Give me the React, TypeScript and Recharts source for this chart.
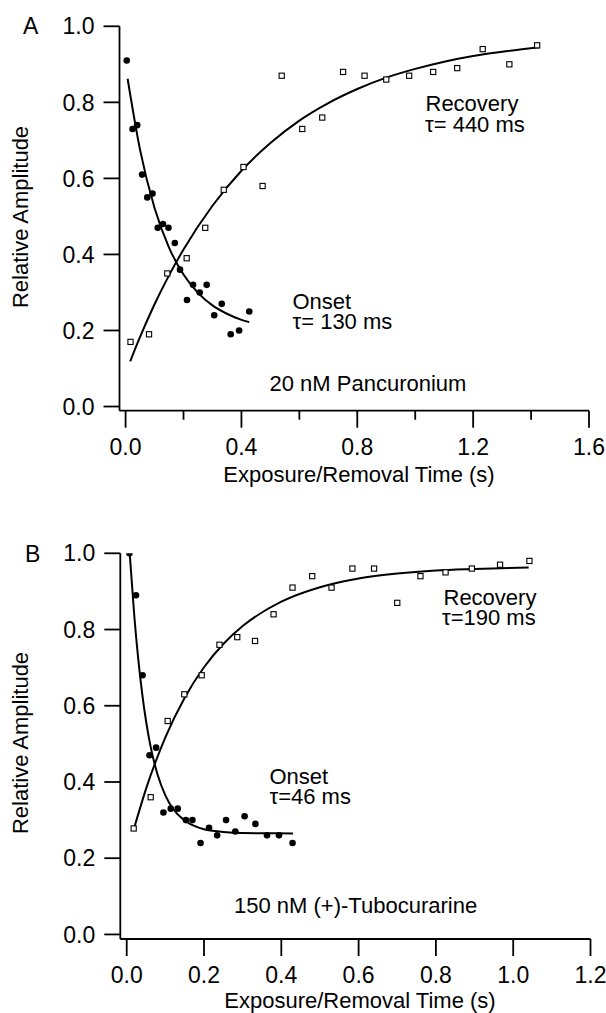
import React from 'react';
import { ComposedChart, Line, Scatter, XAxis, YAxis } from 'recharts';

// ---------- Panel A: 20 nM Pancuronium ----------
const onsetA_t = [0.004, 0.024, 0.040, 0.057, 0.075, 0.093, 0.111, 0.129, 0.148, 0.170, 0.188, 0.212, 0.233, 0.256, 0.280, 0.306, 0.332, 0.363, 0.392, 0.427];
const onsetA_y = [0.91, 0.73, 0.74, 0.61, 0.55, 0.56, 0.47, 0.48, 0.47, 0.43, 0.36, 0.28, 0.32, 0.30, 0.32, 0.24, 0.27, 0.19, 0.20, 0.25];
const recoveryA_t = [0.017, 0.081, 0.144, 0.211, 0.275, 0.339, 0.407, 0.473, 0.539, 0.61, 0.679, 0.751, 0.825, 0.90, 0.979, 1.062, 1.145, 1.233, 1.325, 1.421];
const recoveryA_y = [0.17, 0.19, 0.35, 0.39, 0.47, 0.57, 0.63, 0.58, 0.87, 0.73, 0.76, 0.88, 0.87, 0.86, 0.87, 0.88, 0.89, 0.94, 0.90, 0.95];
const onsetFitA_t = [0.007, 0.05, 0.1, 0.15, 0.2, 0.25, 0.3, 0.35, 0.4, 0.427];
const onsetFitA_y = [0.862, 0.675, 0.522, 0.418, 0.347, 0.299, 0.266, 0.244, 0.228, 0.222];
const recFitA_t = [0.016, 0.05, 0.1, 0.15, 0.2, 0.3, 0.4, 0.5, 0.6, 0.7, 0.8, 0.9, 1.0, 1.1, 1.2, 1.3, 1.43];
const recFitA_y = [0.119, 0.183, 0.269, 0.345, 0.413, 0.528, 0.620, 0.693, 0.752, 0.798, 0.835, 0.865, 0.888, 0.907, 0.922, 0.933, 0.945];
const xTicksA = [0, 0.2, 0.4, 0.6, 0.8, 1.0, 1.2, 1.4, 1.6];
const xLabeledA = [0, 0.4, 0.8, 1.2, 1.6];

// ---------- Panel B: 150 nM (+)-Tubocurarine ----------
const onsetB_t = [0.007, 0.024, 0.041, 0.059, 0.076, 0.095, 0.114, 0.132, 0.153, 0.170, 0.191, 0.213, 0.234, 0.257, 0.281, 0.305, 0.333, 0.363, 0.394, 0.429];
const onsetB_y = [1.0, 0.89, 0.68, 0.47, 0.49, 0.32, 0.33, 0.33, 0.30, 0.30, 0.24, 0.28, 0.26, 0.30, 0.27, 0.31, 0.29, 0.26, 0.26, 0.24];
const recoveryB_t = [0.018, 0.062, 0.106, 0.149, 0.194, 0.24, 0.286, 0.332, 0.38, 0.429, 0.48, 0.53, 0.584, 0.64, 0.70, 0.76, 0.825, 0.893, 0.966, 1.042];
const recoveryB_y = [0.278, 0.36, 0.56, 0.63, 0.68, 0.76, 0.78, 0.77, 0.84, 0.91, 0.94, 0.91, 0.96, 0.96, 0.87, 0.94, 0.95, 0.96, 0.97, 0.98];
const onsetFitB_t = [0.008, 0.02, 0.03, 0.04, 0.05, 0.06, 0.08, 0.1, 0.12, 0.15, 0.2, 0.25, 0.3, 0.43];
const onsetFitB_y = [0.996, 0.831, 0.721, 0.632, 0.560, 0.502, 0.419, 0.365, 0.329, 0.299, 0.276, 0.269, 0.266, 0.265];
const recFitB_t = [0.018, 0.05, 0.1, 0.15, 0.2, 0.25, 0.3, 0.4, 0.5, 0.6, 0.7, 0.8, 0.9, 1.04];
const recFitB_y = [0.275, 0.382, 0.517, 0.621, 0.701, 0.762, 0.809, 0.873, 0.911, 0.934, 0.947, 0.955, 0.959, 0.963];
const xTicksB = [0, 0.2, 0.4, 0.6, 0.8, 1.0, 1.2];

const yTicks = [0, 0.2, 0.4, 0.6, 0.8, 1.0];

const zip = (t: number[], y: number[]) => t.map((v, i) => ({ t: v, y: y[i] }));

const FONT = '"Liberation Sans", Arial, Helvetica, sans-serif';

const Dot = (p: any) => <circle cx={p.cx} cy={p.cy} r={3.3} fill="#000" />;
const Box = (p: any) => (
  <rect x={p.cx - 2.6} y={p.cy - 2.6} width={5.2} height={5.2} fill="#fff" stroke="#000" strokeWidth={1.1} />
);

const makeXTick = (labeled: number[] | null) => (p: any) => {
  const v = p.payload.value as number;
  const major = labeled === null || labeled.some((l) => Math.abs(l - v) < 1e-6);
  return (
    <g>
      <line x1={p.x} x2={p.x} y1={p.y} y2={p.y + (major ? 17 : 9)} stroke="#000" strokeWidth={1.8} />
      {major && (
        <text x={p.x} y={p.y + 44} textAnchor="middle" fontSize={23} fontFamily={FONT} fill="#000">
          {v.toFixed(1)}
        </text>
      )}
    </g>
  );
};

type PanelProps = {
  top: number;
  height: number;
  margin: { top: number; right: number; bottom: number; left: number };
  xDomain: [number, number];
  yDomain: [number, number];
  xTicks: number[];
  labeled: number[] | null;
  onset: { t: number; y: number }[];
  recovery: { t: number; y: number }[];
  onsetFit: { t: number; y: number }[];
  recFit: { t: number; y: number }[];
  xAxisHeight: number;
};

const Panel = (pp: PanelProps) => (
  <div style={{ position: 'absolute', left: 0, top: pp.top, width: 606, height: pp.height }}>
    <ComposedChart width={606} height={pp.height} margin={pp.margin}>
      <XAxis
        dataKey="t"
        type="number"
        domain={pp.xDomain}
        allowDataOverflow
        ticks={pp.xTicks}
        tickSize={0}
        tickMargin={0}
        tickLine={false}
        interval={0}
        height={pp.xAxisHeight}
        axisLine={{ stroke: '#000', strokeWidth: 1.8 }}
        tick={makeXTick(pp.labeled)}
      />
      <YAxis
        dataKey="y"
        type="number"
        domain={pp.yDomain}
        allowDataOverflow
        ticks={yTicks}
        interval={0}
        width={60}
        tickSize={16}
        tickMargin={9}
        tickFormatter={(v: number) => v.toFixed(1)}
        tick={{ fontSize: 23, fill: '#000', fontFamily: FONT }}
        tickLine={{ stroke: '#000', strokeWidth: 1.8 }}
        axisLine={{ stroke: '#000', strokeWidth: 1.8 }}
      />
      <Line data={pp.onsetFit} dataKey="y" type="monotone" stroke="#000" strokeWidth={2} dot={false} isAnimationActive={false} />
      <Line data={pp.recFit} dataKey="y" type="monotone" stroke="#000" strokeWidth={2} dot={false} isAnimationActive={false} />
      <Scatter data={pp.onset} dataKey="y" shape={Dot} isAnimationActive={false} />
      <Scatter data={pp.recovery} dataKey="y" shape={Box} isAnimationActive={false} />
    </ComposedChart>
  </div>
);

const T = (props: any) => (
  <text fontFamily={FONT} fontSize={22} fill="#000" {...props} />
);

export default function App() {
  return (
    <div style={{ position: 'absolute', left: 0, top: 0, width: 606, height: 1013, background: '#fff', overflow: 'hidden' }}>
      <Panel
        top={0}
        height={500}
        margin={{ top: 26.3, right: 17, bottom: 29.3, left: 59.5 }}
        xDomain={[-0.021, 1.6]}
        yDomain={[-0.011, 1.0]}
        xTicks={xTicksA}
        labeled={xLabeledA}
        onset={zip(onsetA_t, onsetA_y)}
        recovery={zip(recoveryA_t, recoveryA_y)}
        onsetFit={zip(onsetFitA_t, onsetFitA_y)}
        recFit={zip(recFitA_t, recFitA_y)}
        xAxisHeight={60}
      />
      <Panel
        top={500}
        height={513}
        margin={{ top: 53.3, right: 15.5, bottom: 34, left: 60.3 }}
        xDomain={[-0.0166, 1.2]}
        yDomain={[-0.012, 1.0]}
        xTicks={xTicksB}
        labeled={null}
        onset={zip(onsetB_t, onsetB_y)}
        recovery={zip(recoveryB_t, recoveryB_y)}
        onsetFit={zip(onsetFitB_t, onsetFitB_y)}
        recFit={zip(recFitB_t, recFitB_y)}
        xAxisHeight={40}
      />
      <svg width={606} height={1013} style={{ position: 'absolute', left: 0, top: 0, pointerEvents: 'none' }}>
        {/* Panel A */}
        <T x={23} y={33.5} fontSize={23}>A</T>
        <T x={425.5} y={111}>Recovery</T>
        <T x={425} y={131.5}>τ= 440 ms</T>
        <T x={292.5} y={308.5}>Onset</T>
        <T x={292.5} y={329}>τ= 130 ms</T>
        <T x={269.5} y={390.5}>20 nM Pancuronium</T>
        <T x={359} y={482} textAnchor="middle">Exposure/Removal Time (s)</T>
        <T x={0} y={0} textAnchor="middle" transform="translate(28,217) rotate(-90)">Relative Amplitude</T>
        {/* Panel B */}
        <T x={25} y={562} fontSize={23}>B</T>
        <T x={443.5} y={604.5}>Recovery</T>
        <T x={442} y={625}>τ=190 ms</T>
        <T x={269.5} y={783.5}>Onset</T>
        <T x={269.5} y={804}>τ=46 ms</T>
        <T x={234} y={912.5}>150 nM (+)-Tubocurarine</T>
        <T x={360} y={1008} textAnchor="middle">Exposure/Removal Time (s)</T>
        <T x={0} y={0} textAnchor="middle" transform="translate(28,743) rotate(-90)">Relative Amplitude</T>
      </svg>
    </div>
  );
}
